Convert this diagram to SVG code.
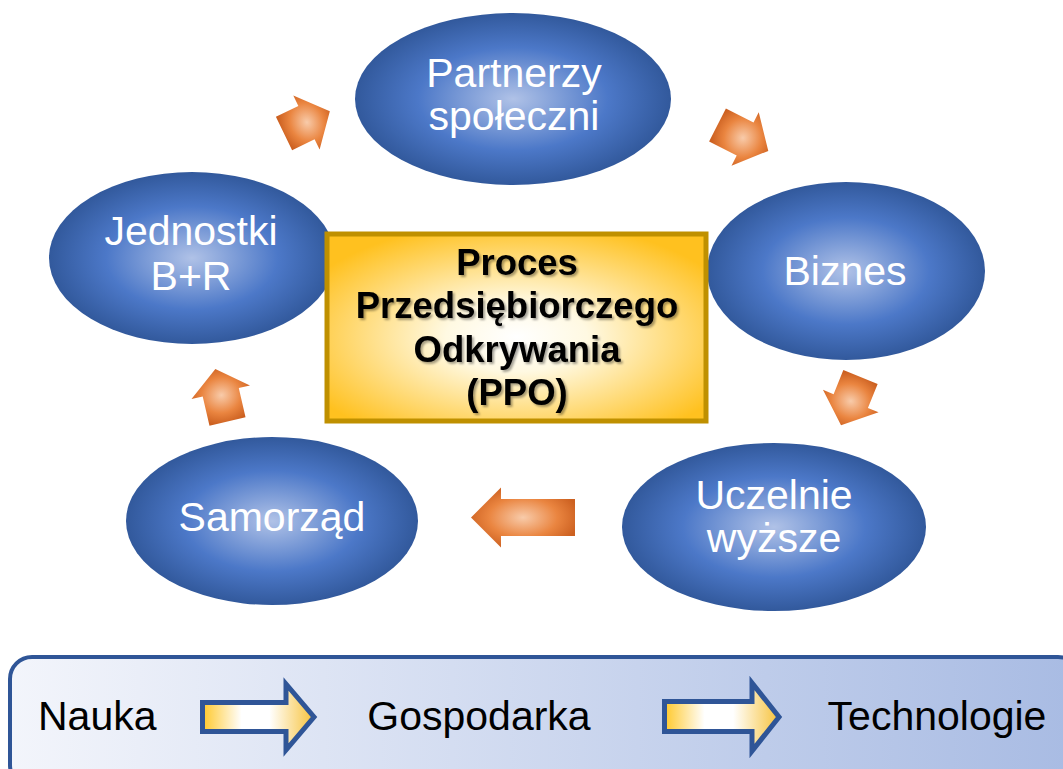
<svg xmlns="http://www.w3.org/2000/svg" width="1063" height="769" viewBox="0 0 1063 769">
<defs>
<radialGradient id="gBlue" cx="50%" cy="50%" r="50%">
<stop offset="0" stop-color="#b0c2e7"/>
<stop offset="0.6" stop-color="#4c78c8"/>
<stop offset="1" stop-color="#32599c"/>
</radialGradient>
<radialGradient id="gOrange" cx="50%" cy="50%" r="55%">
<stop offset="0" stop-color="#f8cbaa"/>
<stop offset="0.6" stop-color="#ea8540"/>
<stop offset="1" stop-color="#cc6020"/>
</radialGradient>
<radialGradient id="gGold" cx="50%" cy="55%" r="62%">
<stop offset="0" stop-color="#ffffff"/>
<stop offset="0.3" stop-color="#fff9e2"/>
<stop offset="1" stop-color="#ffc11f"/>
</radialGradient>
<linearGradient id="gBox" x1="0" y1="0" x2="1" y2="0">
<stop offset="0" stop-color="#f3f5fb"/>
<stop offset="1" stop-color="#a8bbe3"/>
</linearGradient>
<linearGradient id="gArr" x1="0" y1="0" x2="1" y2="0">
<stop offset="0" stop-color="#ffc82a"/>
<stop offset="0.35" stop-color="#ffffff"/>
<stop offset="0.6" stop-color="#ffffff"/>
<stop offset="1" stop-color="#f7c23a"/>
</linearGradient>
<filter id="shadow" x="-10%" y="-10%" width="120%" height="130%">
<feDropShadow dx="2" dy="2" stdDeviation="1.2" flood-color="#000" flood-opacity="0.35"/>
</filter>
</defs>
<style>
.ell{fill:url(#gBlue);}
.et{font-family:"Liberation Sans",Arial,sans-serif;font-size:41px;fill:#fff;text-anchor:middle;}
.oa{fill:url(#gOrange);}
.ct{font-family:"Liberation Sans",Arial,sans-serif;font-size:36.5px;font-weight:bold;fill:#000;text-anchor:middle;}
.bt{font-family:"Liberation Sans",Arial,sans-serif;font-size:41px;fill:#000;}
.ba{fill:url(#gArr);stroke:#2f5597;stroke-width:5;}
</style>
<rect width="1063" height="769" fill="#fff"/>

<g id="connectors">
<path class="oa" transform="translate(284,133.5) rotate(-26)" d="M0,-18.5 L25,-18.5 L25,-30 L51,0 L25,30 L25,18.5 L0,18.5 Z"/>
<path class="oa" transform="translate(717.5,125) rotate(27)" d="M0,-18.5 L31,-18.5 L31,-30 L57,0 L31,30 L31,18.5 L0,18.5 Z"/>
<path class="oa" transform="translate(860.5,377) rotate(112)" d="M0,-18.5 L26,-18.5 L26,-30 L52,0 L26,30 L26,18.5 L0,18.5 Z"/>
<path class="oa" transform="translate(575,517.5) rotate(180)" d="M0,-18.5 L74,-18.5 L74,-30 L104,0 L74,30 L74,18.5 L0,18.5 Z"/>
<path class="oa" transform="translate(227.5,421.5) rotate(-103)" d="M0,-18.5 L30,-18.5 L30,-30 L54,0 L30,30 L30,18.5 L0,18.5 Z"/>
</g>

<g id="partnerzy">
<ellipse class="ell" cx="513" cy="99" rx="158" ry="86"/>
<text class="et" x="514" y="87">Partnerzy</text>
<text class="et" x="514" y="130">społeczni</text>
</g>
<g id="biznes">
<ellipse class="ell" cx="846" cy="271" rx="139" ry="89"/>
<text class="et" x="845" y="285">Biznes</text>
</g>
<g id="uczelnie">
<ellipse class="ell" cx="774" cy="527" rx="152" ry="84"/>
<text class="et" x="774" y="509">Uczelnie</text>
<text class="et" x="774" y="552">wyższe</text>
</g>
<g id="samorzad">
<ellipse class="ell" cx="272" cy="521" rx="146" ry="84"/>
<text class="et" x="272" y="531">Samorząd</text>
</g>
<g id="jednostki">
<ellipse class="ell" cx="192" cy="258" rx="143" ry="86"/>
<text class="et" x="191" y="245">Jednostki</text>
<text class="et" x="191" y="290">B+R</text>
</g>

<g id="ppo">
<rect x="327" y="234" width="379" height="187" fill="url(#gGold)" stroke="#bf9000" stroke-width="5"/>
<g filter="url(#shadow)">
<text class="ct" x="517" y="275">Proces</text>
<text class="ct" x="517" y="318">Przedsiębiorczego</text>
<text class="ct" x="517" y="362">Odkrywania</text>
<text class="ct" x="517" y="405">(PPO)</text>
</g>
</g>

<g id="legend">
<rect x="10" y="657" width="1070" height="130" rx="22" ry="22" fill="url(#gBox)" stroke="#2f5597" stroke-width="4"/>
<text class="bt" x="38" y="730">Nauka</text>
<path class="ba" d="M202.5,702.5 L286,702.5 L286,684 L314,717 L286,750 L286,731.5 L202.5,731.5 Z"/>
<text class="bt" x="479" y="730" text-anchor="middle">Gospodarka</text>
<path class="ba" d="M664.5,701.5 L752,701.5 L752,683 L779,717 L752,751 L752,731.5 L664.5,731.5 Z"/>
<text class="bt" x="937" y="730" text-anchor="middle">Technologie</text>
</g>
</svg>
